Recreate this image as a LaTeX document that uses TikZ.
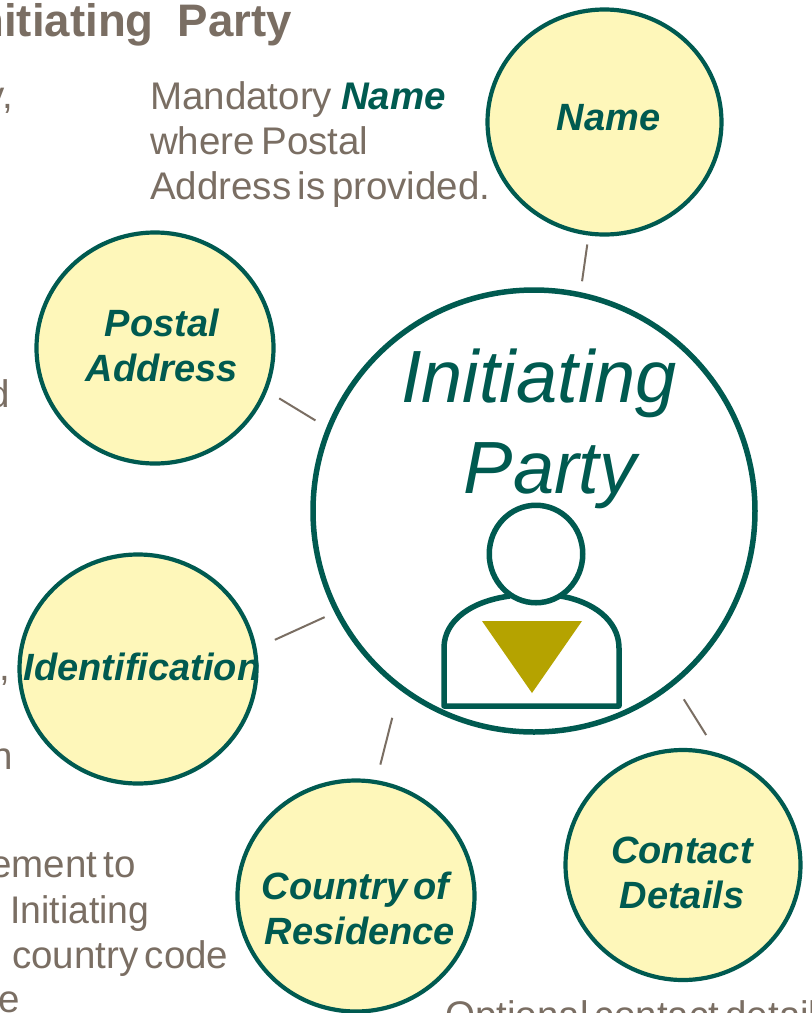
\documentclass[tikz,border=0pt]{standalone}
\usepackage{fontspec}
\setmainfont[WordSpace=0.6]{Liberation Sans}
\usetikzlibrary{shapes.geometric}
\definecolor{partygreen}{RGB}{0,90,80}
\definecolor{bubblefill}{RGB}{254,247,186}
\definecolor{notegrey}{RGB}{122,110,99}
\definecolor{markolive}{RGB}{181,163,0}
\tikzset{
    bubble/.style={ellipse, draw=partygreen, fill=bubblefill, line width=4.2pt, inner sep=0pt},
    bubbletext/.style={text=partygreen, align=center, inner sep=0pt, font=\fontsize{38}{45}\selectfont\bfseries\itshape},
    note/.style={text=notegrey, anchor=base west, inner sep=0pt, font=\fontsize{38.5}{45}\selectfont},
    tick/.style={draw=notegrey, line width=2pt}
}
\begin{document}
\begin{tikzpicture}[x=1pt,y=-1pt]
            \useasboundingbox (0,0) rectangle (812,1013);
            \clip (0,0) rectangle (812,1013);

            \node (title) at (292,36) [anchor=base east, inner sep=0pt, text=notegrey, font=\fontsize{45.6}{50}\selectfont\bfseries] {Initiating\hspace*{24pt}Party};

            \node (main) at (534,511) [circle, draw=partygreen, fill=white, line width=5.5pt, minimum size=442pt, inner sep=0pt] {};
            \node (name) at (604.5,122) [bubble, minimum width=234pt, minimum height=225pt] {};
            \node (postal) at (155,348) [bubble, minimum width=237pt, minimum height=231pt] {};
            \node (ident) at (138,669) [bubble, minimum width=237pt, minimum height=229pt] {};
            \node (country) at (356,896) [bubble, minimum width=237pt, minimum height=231pt] {};
            \node (contact) at (683,865) [bubble, minimum width=235pt, minimum height=230pt] {};

            \node (nametext) at (608.5,118) [bubbletext] {Name};
            \node (postaltext) at (162,345) [bubbletext] {Postal\\Address};
            \node (identtext) at (142,667) [bubbletext] {Identification};
            \node (countrytext) at (360,908) [bubbletext] {Country of\hspace*{9pt}\\Residence};
            \node (contacttext) at (682,873) [bubbletext] {Contact\\Details};

            \node (maintext) at (539,429) [text=partygreen, align=center, inner sep=0pt, font=\fontsize{74}{91}\selectfont\itshape] {Initiating\\\hspace*{22pt}Party};

            \draw[tick, shorten <=11pt, shorten >=9pt] (main.78) -- (name.262);
            \draw[tick, shorten <=13pt, shorten >=14pt] (main.158) -- (postal.339);
            \draw[tick, shorten <=11pt, shorten >=20pt] (main.207) -- (ident.10);
            \draw[tick, shorten <=29pt, shorten >=16pt] (main.233) -- (country.80);
            \draw[tick, shorten <=17pt, shorten >=21pt] (main.309) -- (contact.73);

            \draw[draw=partygreen, line width=5.5pt, line join=round] (510,596) .. controls (472,601) and (444,620) .. (444,648) -- (444,706) -- (619,706) -- (619,648) .. controls (619,620) and (592,601) .. (560,596);
            \node (head) at (536,554) [ellipse, draw=partygreen, line width=5.5pt, minimum width=93.5pt, minimum height=97.5pt, inner sep=0pt] {};
            \fill[markolive] (482,621) -- (582,621) -- (532,693) -- cycle;

            \node (mandatory) at (150,109) [note] {Mandatory\hspace*{9pt}\textcolor{partygreen}{\bfseries\itshape Name}};
            \node (where) at (150,154) [note] {where Postal};
            \node (address) at (150,199) [note] {Address is provided.};

            \node (frag1) at (13,108) [note, anchor=base east] {y,};
            \node (frag2) at (10,407) [note, anchor=base east] {d};
            \node (frag3) at (10,680) [note, anchor=base east] {,};
            \node (frag4) at (13,769) [note, anchor=base east] {n};
            \node (element) at (136,877) [note, anchor=base east] {ement to};
            \node (initiating) at (10,923) [note] {\scalebox{.97}[1]{Initiating}};
            \node (code) at (12,968) [note] {country code};
            \node (frag5) at (20,1012) [note, anchor=base east] {e};
            \node (optional) at (445,1028) [note] {Optional contact details};
        \end{tikzpicture}
\end{document}
